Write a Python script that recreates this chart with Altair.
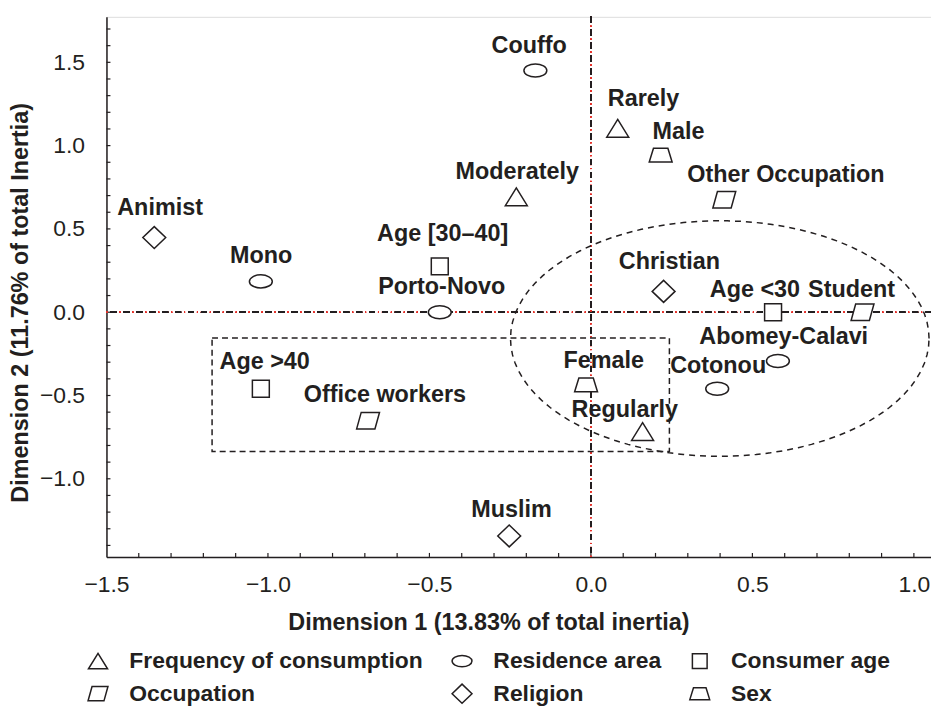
import altair as alt
import pandas as pd

# ---- data ----
names = ["Rarely", "Moderately", "Regularly",
         "Couffo", "Mono", "Porto-Novo", "Abomey-Calavi", "Cotonou",
         "Age [30–40]", "Age <30", "Age >40",
         "Other Occupation", "Student", "Office workers",
         "Animist", "Christian", "Muslim",
         "Male", "Female"]
groups = ["Frequency of consumption"] * 3 + ["Residence area"] * 5 + ["Consumer age"] * 3 + \
         ["Occupation"] * 3 + ["Religion"] * 3 + ["Sex"] * 2
dim1 = [0.083, -0.231, 0.160,
        -0.172, -1.022, -0.468, 0.579, 0.391,
        -0.468, 0.564, -1.022,
        0.413, 0.841, -0.690,
        -1.352, 0.225, -0.253,
        0.216, -0.015]
dim2 = [1.104, 0.693, -0.716,
        1.451, 0.185, 0.0, -0.293, -0.460,
        0.275, 0.0, -0.460,
        0.675, 0.0, -0.651,
        0.448, 0.125, -1.343,
        0.943, -0.436]
label_x = [0.163, -0.228, 0.105,
           -0.191, -1.021, -0.462, 0.597, 0.394,
           -0.459, 0.508, -1.010,
           0.604, 0.807, -0.638,
           -1.334, 0.243, -0.246,
           0.271, 0.040]
label_y = [1.278, 0.842, -0.585,
           1.600, 0.340, 0.149, -0.149, -0.322,
           0.472, 0.131, -0.299,
           0.824, 0.131, -0.496,
           0.627, 0.299, -1.188,
           1.081, -0.293]

legend_order = ["Frequency of consumption", "Residence area", "Consumer age",
                "Occupation", "Religion", "Sex"]
shape_paths = [
    "M 0 -0.78 L 0.96 0.78 L -0.96 0.78 Z",
    "M -1 0 C -1 -0.315 -0.552 -0.57 0 -0.57 C 0.552 -0.57 1 -0.315 1 0 "
    "C 1 0.315 0.552 0.57 0 0.57 C -0.552 0.57 -1 0.315 -1 0 Z",
    "M -0.74 -0.74 L 0.74 -0.74 L 0.74 0.74 L -0.74 0.74 Z",
    "M -0.6 -0.72 L 1 -0.72 L 0.6 0.72 L -1 0.72 Z",
    "M 0 -0.96 L 1 0 L 0 0.96 L -1 0 Z",
    "M -0.63 -0.6 L 0.63 -0.6 L 1 0.6 L -1 0.6 Z",
]

# annotation shapes
box = {"x1": [-1.173], "x2": [0.243], "y1": [-0.155], "y2": [-0.836]}
ell_cx, ell_cy, ell_rx, ell_ry = 0.399, -0.158, 0.648, 0.707

x_labels = [-1.5, -1.0, -0.5, 0.0, 0.5, 1.0]
y_labels = [-1.5, -1.0, -0.5, 0.0, 0.5, 1.0, 1.5]
x_minor = [round(-1.4 + 0.1 * i, 1) for i in range(25)]
y_minor = [round(-1.4 + 0.1 * i, 1) for i in range(32)]

X_DOMAIN = [-1.5, 1.053]
Y_DOMAIN = [-1.469, 1.773]

INK = "#231f20"
BOLD = "Liberation Sans"

df = pd.DataFrame({"name": names, "group": groups, "d1": dim1, "d2": dim2,
                   "lx": label_x, "ly": label_y})

xs = alt.Scale(domain=X_DOMAIN, nice=False, zero=False)
ys = alt.Scale(domain=Y_DOMAIN, nice=False, zero=False)

xaxis = alt.Axis(values=x_labels, format=".1f", ticks=False, tickSize=0, grid=False,
                 labelFont="Liberation Sans", labelFontSize=23, labelColor=INK,
                 labelPadding=28, labelBaseline="middle", labelFlush=False, labelOverlap=False,
                 domainColor=INK, domainWidth=1.5,
                 title="Dimension 1 (13.83% of total inertia)",
                 titleFont=BOLD, titleFontWeight="bold", titleFontSize=23.5, titleColor=INK,
                 titleX=384, titleY=66, titleBaseline="middle", titleAlign="center")
yaxis = alt.Axis(values=y_labels, format=".1f", ticks=False, tickSize=0, grid=False,
                 labelFont="Liberation Sans", labelFontSize=23, labelColor=INK,
                 labelPadding=22, labelFlush=False, labelOverlap=False,
                 domainColor=INK, domainWidth=1.5,
                 title="Dimension 2 (11.76% of total Inertia)",
                 titleFont=BOLD, titleFontWeight="bold", titleFontSize=23.5, titleColor=INK,
                 titleX=-86, titleY=287, titleBaseline="middle", titleAlign="center", titleAngle=270)

base = alt.Chart(df)

# reference lines (black dash + red dash-dot)
h_red = alt.Chart(df).mark_rule(color="#e8322b", strokeWidth=1, strokeDash=[6, 3, 1, 3]).encode(
    y=alt.datum(0, scale=ys))
h_blk = alt.Chart(df).mark_rule(color=INK, strokeWidth=1.2, strokeDash=[6, 7]).encode(
    y=alt.datum(0, scale=ys))
v_red = alt.Chart(df).mark_rule(color="#e8322b", strokeWidth=1, strokeDash=[6, 3, 1, 3]).encode(
    x=alt.datum(0, scale=xs))
v_blk = alt.Chart(df).mark_rule(color=INK, strokeWidth=1.2, strokeDash=[6, 7]).encode(
    x=alt.datum(0, scale=xs))

# minor ticks pointing inward
xt = alt.Chart(pd.DataFrame({"t": x_minor})).mark_rule(color=INK, strokeWidth=1.2).encode(
    x=alt.X("t:Q", scale=xs, axis=xaxis), y=alt.value(543), y2=alt.value(539))
yt = alt.Chart(pd.DataFrame({"t": y_minor})).mark_rule(color=INK, strokeWidth=1.2).encode(
    y=alt.Y("t:Q", scale=ys, axis=yaxis), x=alt.value(0), x2=alt.value(4))

rect = alt.Chart(pd.DataFrame(box)).mark_rect(
    fill=None, stroke=INK, strokeWidth=1.5, strokeDash=[6, 4]).encode(
    x=alt.X("x1:Q", scale=xs), x2="x2:Q", y=alt.Y("y1:Q", scale=ys), y2="y2:Q")

ellipse = alt.Chart(alt.sequence(0, 364, 4, as_="deg")).transform_calculate(
    ex=f"{ell_cx} + {ell_rx} * cos(datum.deg * PI / 180)",
    ey=f"{ell_cy} + {ell_ry} * sin(datum.deg * PI / 180)",
).mark_line(color=INK, strokeWidth=1.5, strokeDash=[6, 5]).encode(
    x=alt.X("ex:Q", scale=xs), y=alt.Y("ey:Q", scale=ys), order="deg:Q")

# white backing so lines do not show through the markers
backing = base.mark_point(filled=True, color="white", size=529, opacity=1).encode(
    x=alt.X("d1:Q", scale=xs), y=alt.Y("d2:Q", scale=ys),
    shape=alt.Shape("group:N", scale=alt.Scale(domain=legend_order, range=shape_paths),
                    legend=None))

points = base.mark_point(filled=False, color=INK, strokeWidth=1.5, size=529, opacity=1).encode(
    x=alt.X("d1:Q", scale=xs),
    y=alt.Y("d2:Q", scale=ys),
    shape=alt.Shape("group:N", scale=alt.Scale(domain=legend_order, range=shape_paths),
                    legend=alt.Legend(title=None, orient="none", legendX=-20, legendY=636,
                                      direction="horizontal", columns=3,
                                      labelFont=BOLD, labelFontWeight="bold", labelFontSize=23,
                                      labelColor=INK, symbolSize=400,
                                      symbolStrokeColor=INK, symbolStrokeWidth=1.5,
                                      columnPadding=25, rowPadding=7, labelOffset=20,
                                      labelLimit=400)),
)

labels = base.mark_text(font=BOLD, fontWeight="bold", fontSize=23.5, color=INK,
                        align="center", baseline="middle").encode(
    x=alt.X("lx:Q", scale=xs), y=alt.Y("ly:Q", scale=ys), text="name:N")

chart = alt.layer(xt, yt, h_red, h_blk, v_red, v_blk, rect, ellipse, backing, points, labels).resolve_scale(
    shape="independent"
).properties(
    width=829, height=543,
    autosize=alt.AutoSizeParams(type="none"),
    padding={"left": 99, "top": 7, "right": 0, "bottom": 149},
).configure_view(stroke=None).configure(background="white")

chart.save("out.html", embed_options={"renderer": "svg", "actions": False})
